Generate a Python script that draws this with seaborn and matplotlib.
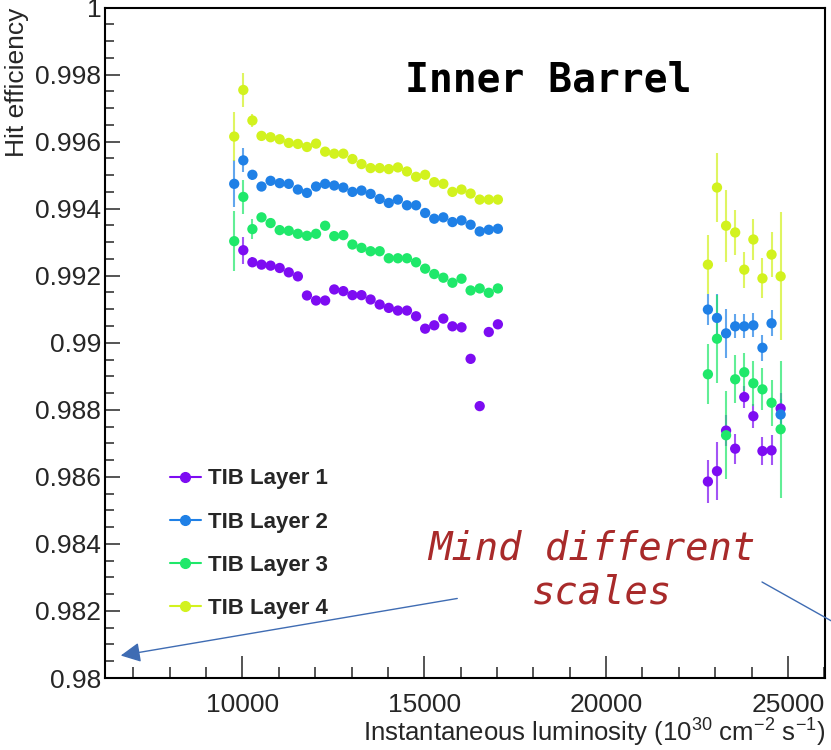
import numpy as np
import pandas as pd
import matplotlib
matplotlib.use("Agg")
import matplotlib.pyplot as plt
import seaborn as sns
from matplotlib.lines import Line2D
from matplotlib.patches import FancyArrowPatch
from matplotlib.ticker import FixedLocator, MultipleLocator, FuncFormatter

# ---------------- data ----------------
layers = ["TIB Layer 1", "TIB Layer 2", "TIB Layer 3", "TIB Layer 4"]
colors = ["#7d0cf2", "#1f80e6", "#1fe86a", "#d2f21e"]

lumi_low = [9775, 10025, 10275, 10525, 10775, 11025, 11275, 11525, 11775, 12025,
            12275, 12525, 12775, 13025, 13275, 13525, 13775, 14025, 14275, 14525,
            14775, 15025, 15275, 15525, 15775, 16025, 16275, 16525, 16775, 17025]
lumi_high = [22800, 23050, 23300, 23550, 23800, 24050, 24300, 24550, 24800]

eff1_low = [np.nan, 0.99276, 0.99240, 0.99233, 0.99230, 0.99223, 0.99210, 0.99198, 0.99141, 0.99126,
            0.99126, 0.99159, 0.99154, 0.99142, 0.99142, 0.99129, 0.99114, 0.99104, 0.99096, 0.99096,
            0.99079, 0.99042, 0.99052, 0.99072, 0.99049, 0.99046, 0.98952, 0.98811, 0.99032, 0.99055]
eff2_low = [0.99474, 0.99544, 0.99501, 0.99466, 0.99483, 0.99476, 0.99474, 0.99457, 0.99447, 0.99466,
            0.99474, 0.99469, 0.99463, 0.99450, 0.99454, 0.99444, 0.99429, 0.99417, 0.99427, 0.99410,
            0.99410, 0.99387, 0.99370, 0.99374, 0.99360, 0.99365, 0.99352, 0.99332, 0.99337, 0.99340]
eff3_low = [0.99303, 0.99435, 0.99339, 0.99374, 0.99357, 0.99336, 0.99334, 0.99325, 0.99319, 0.99325,
            0.99349, 0.99318, 0.99321, 0.99293, 0.99283, 0.99273, 0.99273, 0.99252, 0.99252, 0.99252,
            0.99240, 0.99221, 0.99205, 0.99194, 0.99179, 0.99191, 0.99156, 0.99162, 0.99149, 0.99162]
eff4_low = [0.99615, 0.99754, 0.99663, 0.99617, 0.99613, 0.99607, 0.99596, 0.99593, 0.99584, 0.99594,
            0.99570, 0.99564, 0.99564, 0.99548, 0.99533, 0.99521, 0.99521, 0.99518, 0.99523, 0.99511,
            0.99495, 0.99501, 0.99479, 0.99474, 0.99450, 0.99457, 0.99445, 0.99427, 0.99427, 0.99427]

err1_low = [np.nan, 0.00040, 0.00015] + [0.00010] * 27
err2_low = [0.00070, 0.00036, 0.00015] + [0.00010] * 27
err3_low = [0.00090, 0.00050, 0.00030] + [0.00010] * 27
err4_low = [0.00074, 0.00051, 0.00018] + [0.00010] * 27

eff1_high = [0.98586, 0.98617, 0.98738, 0.98684, 0.98838, 0.98781, 0.98677, 0.98679, 0.98804]
eff2_high = [0.99099, 0.99074, 0.99028, 0.99049, 0.99049, 0.99052, 0.98985, 0.99058, 0.98786]
eff3_high = [0.98906, 0.99012, 0.98724, 0.98891, 0.98912, 0.98879, 0.98861, 0.98821, 0.98742]
eff4_high = [0.99233, 0.99463, 0.99349, 0.99329, 0.99218, 0.99308, 0.99192, 0.99263, 0.99198]

err1_high = [0.00063, 0.00086, 0.00045, 0.00045, 0.00033, 0.00036, 0.00042, 0.00045, 0.00045]
err2_high = [0.00045, 0.00070, 0.00074, 0.00036, 0.00036, 0.00036, 0.00039, 0.00039, 0.00045]
err3_high = [0.00089, 0.00131, 0.00131, 0.00071, 0.00057, 0.00068, 0.00063, 0.00068, 0.00205]
err4_high = [0.00089, 0.00104, 0.00107, 0.00066, 0.00054, 0.00060, 0.00060, 0.00066, 0.00191]

y_ticks = [0.98, 0.982, 0.984, 0.986, 0.988, 0.99, 0.992, 0.994, 0.996, 0.998, 1.0]
x_ticks = [10000, 15000, 20000, 25000]

# ---------------- table ----------------
effs = [(eff1_low, eff1_high, err1_low, err1_high),
        (eff2_low, eff2_high, err2_low, err2_high),
        (eff3_low, eff3_high, err3_low, err3_high),
        (eff4_low, eff4_high, err4_low, err4_high)]
frames = []
for name, (el, eh, rl, rh) in zip(layers, effs):
    frames.append(pd.DataFrame({"lumi": lumi_low + lumi_high,
                                "eff": list(el) + list(eh),
                                "err": list(rl) + list(rh),
                                "layer": name}))
df = pd.concat(frames, ignore_index=True).dropna()

# ---------------- style ----------------
sns.set_style("white")
plt.rcParams["font.family"] = ["Liberation Sans", "DejaVu Sans"]
plt.rcParams["mathtext.fontset"] = "custom"
plt.rcParams["mathtext.rm"] = "Liberation Sans"
plt.rcParams["mathtext.it"] = "Liberation Sans:italic"

fig = plt.figure(figsize=(8.31, 7.5), dpi=100)
ax = fig.add_axes([105.3 / 831, 72 / 750, (825 - 105.3) / 831, (678 - 7.5) / 750])

for name, col in zip(layers, colors):
    sub = df[df["layer"] == name]
    ax.errorbar(sub["lumi"], sub["eff"], yerr=sub["err"], fmt="none",
                ecolor=col, elinewidth=1.5, alpha=0.7, capsize=0, zorder=2)
    sns.scatterplot(data=sub, x="lumi", y="eff", color=col, s=55,
                    edgecolor="none", linewidth=0, legend=False, ax=ax, zorder=3)

ax.set_xlim(6230, 26020)
ax.set_ylim(0.98, 1.0)

ax.xaxis.set_major_locator(FixedLocator(x_ticks))
ax.xaxis.set_minor_locator(MultipleLocator(1000))
ax.yaxis.set_major_locator(FixedLocator(y_ticks))
ax.yaxis.set_minor_locator(MultipleLocator(0.0005))
ax.yaxis.set_major_formatter(FuncFormatter(lambda v, p: ("%.3f" % v).rstrip("0").rstrip(".")))
ax.xaxis.set_major_formatter(FuncFormatter(lambda v, p: "%d" % v))

ax.tick_params(axis="x", which="major", direction="in", length=16, width=1.1,
               labelsize=19, pad=10.5, top=False, bottom=True)
ax.tick_params(axis="x", which="minor", direction="in", length=8, width=1.1, top=False, bottom=True)
ax.tick_params(axis="y", which="major", direction="in", length=11, width=1.1,
               labelsize=19, pad=3, left=True, right=False)
ax.tick_params(axis="y", which="minor", direction="in", length=6.5, width=1.1, left=True, right=False)
for sp in ax.spines.values():
    sp.set_linewidth(1.5)
    sp.set_color("black")

ax.set_xlabel(r"Instantaneous luminosity (10$^{30}$ cm$^{-2}$ s$^{-1}$)",
              fontsize=18.5, loc="right", labelpad=0)
ax.set_ylabel("Hit efficiency", fontsize=19, loc="top", labelpad=4)

handles = [Line2D([0], [0], color=c, marker="o", markersize=7, lw=1.5) for c in colors]
ax.legend(handles, layers, loc="upper left", bbox_to_anchor=(0.077, 0.326),
          frameon=False, prop={"family": "Liberation Sans", "weight": "bold", "size": 16},
          handlelength=1.4, handletextpad=0.35, labelspacing=1.0, borderaxespad=0)

fig.text(405 / 831, 1 - 92 / 750, "Inner Barrel", family="DejaVu Sans Mono",
         weight="bold", fontsize=28.5, color="black", ha="left", va="baseline")
fig.text(592 / 831, 1 - 548 / 750, "Mind different", family="DejaVu Sans Mono",
         style="italic", fontsize=28, color="#a82a2a", ha="center", va="center")
fig.text(602 / 831, 1 - 593 / 750, "scales", family="DejaVu Sans Mono",
         style="italic", fontsize=28, color="#a82a2a", ha="center", va="center")

def fp(x, y):
    return (x / 831, 1 - y / 750)

arr = FancyArrowPatch(fp(460, 598), fp(118, 656), transform=fig.transFigure,
                      arrowstyle="-|>", mutation_scale=30, color="#3f6cb3", lw=1.0)
fig.add_artist(arr)
fig.add_artist(Line2D([762 / 831, 860 / 831], [1 - 582 / 750, 1 - 637 / 750],
                      transform=fig.transFigure, color="#3f6cb3", lw=1.0))

fig.savefig("out.png", dpi=100)
